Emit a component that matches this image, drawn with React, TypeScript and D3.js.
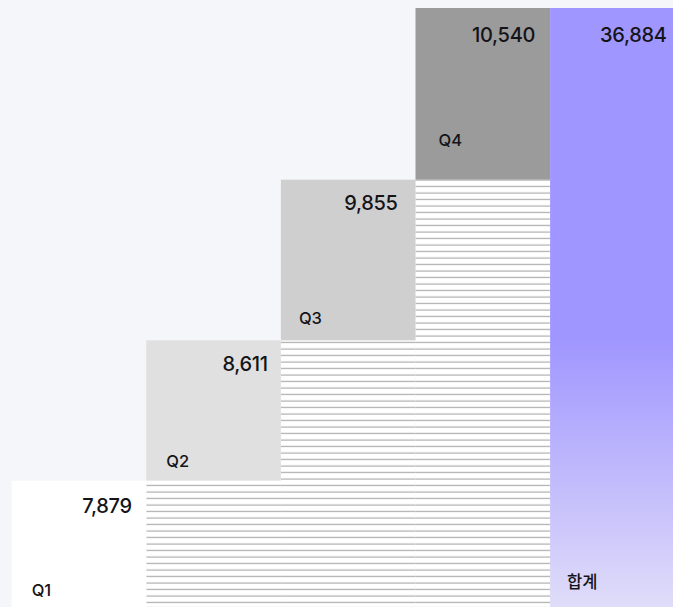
import React from "react";
import * as d3 from "d3";

const categories = ["Q1", "Q2", "Q3", "Q4", "합계"];
const values = [7879, 8611, 9855, 10540];
const totalValue = 36884;

const W = 673;
const H = 607;

export default function App() {
  const x = d3.scaleBand<string>().domain(categories).range([11.7, 684.7]).padding(0);
  const y = d3.scaleLinear().domain([0, totalValue]).range([609, 8]);

  const bars: { cat: string; start: number; end: number; kind: string }[] = [];
  let acc = 0;
  values.forEach((v, i) => {
    bars.push({ cat: categories[i], start: acc, end: acc + v, kind: "step" });
    acc += v;
  });
  bars.push({ cat: categories[4], start: 0, end: totalValue, kind: "total" });

  const fills = ["#ffffff", "#e0e0e0", "#cfcfcf", "#9b9b9b"];
  const labelLift = [13, 14, 16.3, 34, 21];
  const labelIndent = [20, 20, 18, 23, 17];
  const valueRight = [14.6, 13, 17.8, 15, 18];
  const valueDrop = [32.7, 30.5, 30.7, 33.7, 33.7];
  const fmt = d3.format(",");
  const bw = x.bandwidth();

  return (
    <svg
      width={W}
      height={H}
      style={{ position: "fixed", left: 0, top: 0, display: "block" }}
    >
      <defs>
        <pattern id="hatch" patternUnits="userSpaceOnUse" width="8" height="6.5" y="0.5">
          <rect width="8" height="6.5" fill="#ffffff" />
          <rect y="3.5" width="8" height="1" fill="#9e9e9e" />
        </pattern>
        <linearGradient id="totalGrad" x1="0" y1="0" x2="0" y2="1">
          <stop offset="0" stopColor="#a096ff" />
          <stop offset="0.55" stopColor="#a096ff" />
          <stop offset="1" stopColor="#e0ddf9" />
        </linearGradient>
      </defs>
      <rect width={W} height={H} fill="#f5f6f9" />
      {bars.map((b, i) =>
        b.kind === "step" && b.start > 0 ? (
          <rect
            key={"h" + i}
            x={x(b.cat)}
            y={y(b.start)}
            width={bw}
            height={y(0) - 3 - y(b.start)}
            fill="url(#hatch)"
          />
        ) : null
      )}
      {bars.map((b, i) => (
        <rect
          key={"b" + i}
          x={x(b.cat)}
          y={y(b.end)}
          width={bw}
          height={y(b.start) - y(b.end)}
          fill={b.kind === "total" ? "url(#totalGrad)" : fills[i]}
        />
      ))}
      {bars.map((b, i) => (
        <g key={"t" + i} fill="#141418">
          <text
            x={(x(b.cat) as number) + bw - valueRight[i]}
            y={y(b.end) + valueDrop[i]}
            textAnchor="end"
            fontFamily="Inter, 'Noto Sans CJK KR', sans-serif"
            fontSize={20}
            fontWeight={500}
            letterSpacing={-0.3}
          >
            {fmt(b.end - b.start)}
          </text>
          <text
            x={(x(b.cat) as number) + labelIndent[i]}
            y={y(b.start) - labelLift[i]}
            fontFamily="Inter, 'Noto Sans CJK KR', sans-serif"
            fontSize={16.5}
            fontWeight={500}
          >
            {b.cat}
          </text>
        </g>
      ))}
    </svg>
  );
}
